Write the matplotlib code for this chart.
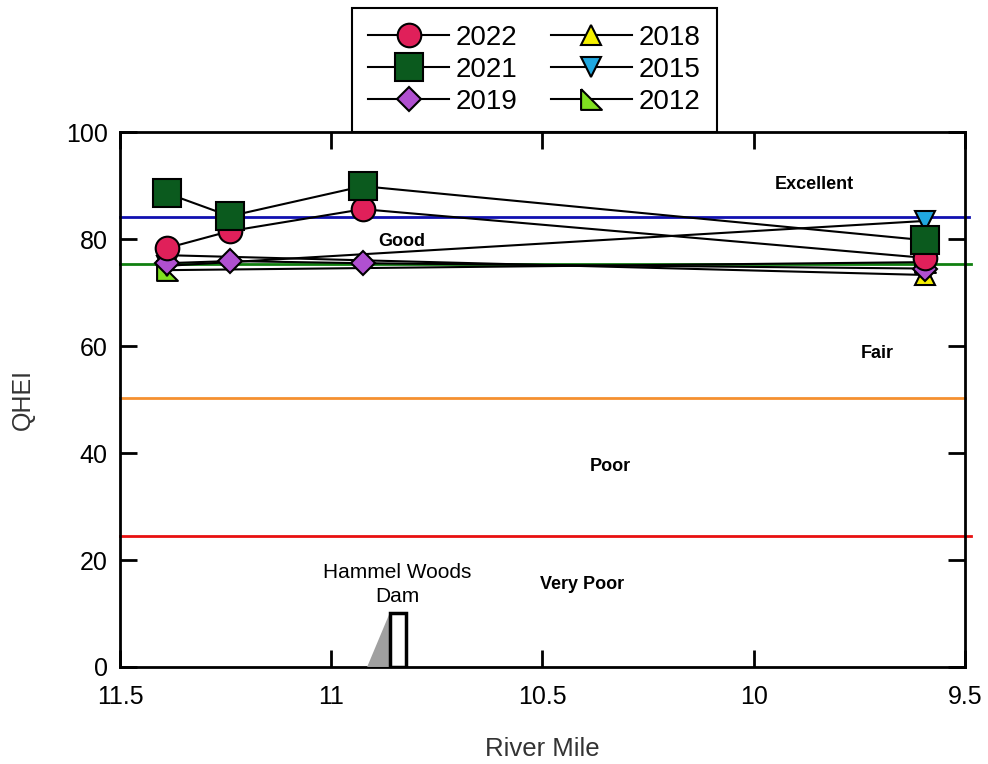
import matplotlib
matplotlib.use("Agg")
import matplotlib.pyplot as plt
from matplotlib.patches import Rectangle, Polygon

plt.rcParams['font.family'] = ['Liberation Sans', 'DejaVu Sans']

# River mile positions
rm_all = [11.39, 11.24, 10.925, 9.595]
rm_ends = [11.39, 9.595]

qhei_2022 = [78.3, 81.5, 85.6, 76.5]
qhei_2021 = [88.6, 84.3, 89.9, 79.8]
qhei_2019 = [75.5, 75.9, 75.5, 74.5]
qhei_2018 = [77.0, 73.3]
qhei_2015 = [75.0, 83.4]
qhei_2012 = [74.2, 75.7]

thresholds = [84.1, 75.3, 50.3, 24.5]
threshold_colors = ['#1010b0', '#108010', '#f59030', '#e81010']
threshold_ends = [9.49, 9.485, 9.5, 9.485]

zone_labels = ['Excellent', 'Good', 'Fair', 'Poor', 'Very Poor']
zone_x = [9.857, 10.833, 9.708, 10.34, 10.407]
zone_y = [90.3, 79.6, 58.7, 37.4, 15.5]

fig = plt.figure(figsize=(9.88, 7.64), dpi=100)
ax = fig.add_axes([0.1215, 0.127, 0.855, 0.700])

ax.set_xlim(11.5, 9.5)
ax.set_ylim(0, 100)

for t, c, e in zip(thresholds, threshold_colors, threshold_ends):
    ax.plot([11.5, e], [t, t], color=c, lw=2, clip_on=False, zorder=2)

for lab, x, y in zip(zone_labels, zone_x, zone_y):
    ax.text(x, y, lab, fontsize=13, fontweight='bold', ha='center', va='center')

# Dam
ax.add_patch(Polygon([(10.915, 0), (10.862, 10), (10.862, 0)], closed=True,
                     facecolor='#a0a0a0', edgecolor='none', zorder=3))
ax.add_patch(Rectangle((10.862, 0), -0.04, 10, facecolor='white',
                       edgecolor='black', lw=2.5, zorder=4))
ax.text(10.844, 15.4, 'Hammel Woods\nDam', ha='center', va='center', fontsize=15,
        linespacing=1.35)

lkw = dict(color='black', lw=1.5, markeredgecolor='black', markeredgewidth=1.5, zorder=5)
right_tri = [(-1, 1), (-1, -1), (1, -1), (-1, 1)]
ax.plot(rm_ends, qhei_2012, marker=right_tri, markersize=15, markerfacecolor='#80e020', **lkw, label='2012')
ax.plot(rm_ends, qhei_2015, marker='v', markersize=15, markerfacecolor='#20a8e0', **lkw, label='2015')
ax.plot(rm_ends, qhei_2018, marker='^', markersize=15, markerfacecolor='#f5f000', **lkw, label='2018')
ax.plot(rm_all, qhei_2019, marker='D', markersize=12, markerfacecolor='#b050d0', **lkw, label='2019')
ax.plot(rm_all, qhei_2022, marker='o', markersize=17, markerfacecolor='#e0205a', **lkw, label='2022')
ax.plot(rm_all, qhei_2021, marker='s', markersize=20, markerfacecolor='#0b5a1e', **lkw, label='2021')

ax.set_xticks([11.5, 11, 10.5, 10, 9.5])
ax.set_xticklabels(['11.5', '11', '10.5', '10', '9.5'])
ax.set_yticks([0, 20, 40, 60, 80, 100])
ax.tick_params(direction='in', length=12, width=2, labelsize=18, top=True, right=True, pad=9)
ax.tick_params(axis='x', pad=13)
for s in ax.spines.values():
    s.set_linewidth(2)

ax.set_xlabel('River Mile', fontsize=18.5, labelpad=20, color='#333333')
ax.set_ylabel('QHEI', fontsize=18, labelpad=22, color='#333333')

handles, labels = ax.get_legend_handles_labels()
order = ['2022', '2021', '2019', '2018', '2015', '2012']
hmap = dict(zip(labels, handles))
leg = fig.legend([hmap[o] for o in order], order, ncol=2, loc='upper center',
                 bbox_to_anchor=(0.541, 0.9895), fontsize=20, frameon=True,
                 fancybox=False, edgecolor='black', handlelength=2.9,
                 columnspacing=1.2, labelspacing=0.22, borderpad=0.6,
                 handletextpad=0.25, markerscale=1.0, framealpha=1,
                 borderaxespad=0)
leg.get_frame().set_linewidth(1.5)

fig.savefig('out.png', dpi=100)
